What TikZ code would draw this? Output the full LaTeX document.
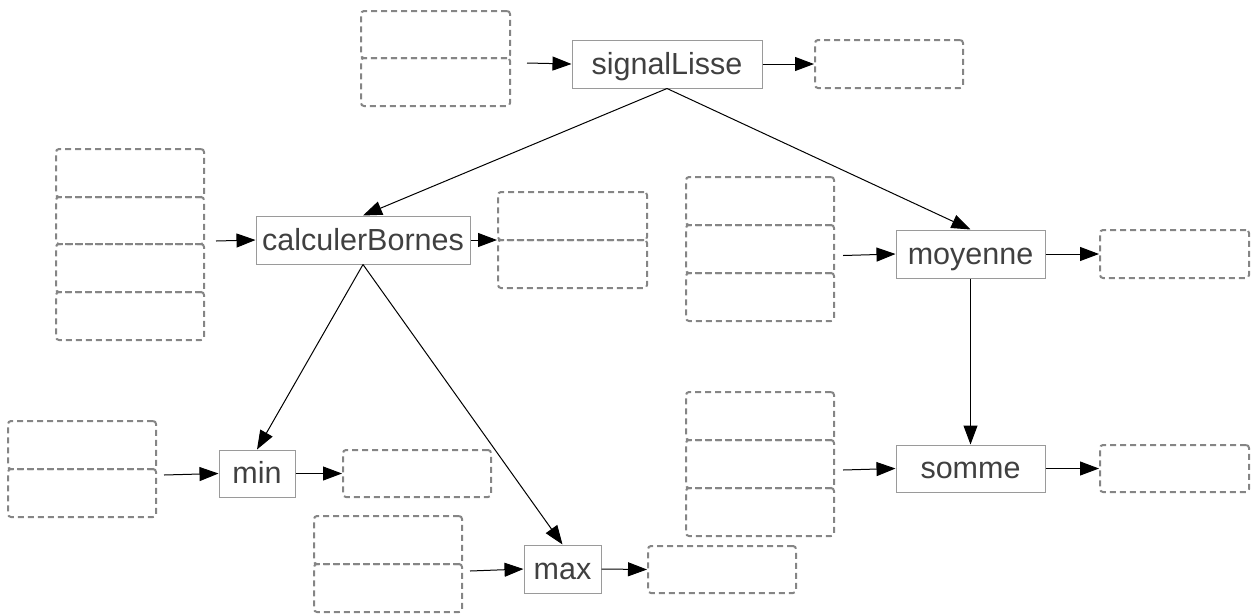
\documentclass[tikz,border=0pt]{standalone}
\usepackage{fontspec}
\setmainfont{Liberation Sans}
\usetikzlibrary{arrows.meta}
\definecolor{txtc}{HTML}{404040}
\definecolor{dashc}{HTML}{858585}
\definecolor{brdc}{HTML}{9A9A9A}
\tikzset{
  fn/.style={draw=brdc, line width=1pt, fill=white, text=txtc, inner sep=0pt,
    text height=20pt, text depth=0pt,
    font=\fontsize{30.5}{30.5}\selectfont},
  db/.style={draw=dashc, line width=2pt, dash pattern=on 6pt off 4pt, rounded corners=3pt, inner sep=0pt},
  arr/.style={draw=black, line width=1pt, -{Triangle[length=19pt,width=14pt]}},
}
\begin{document}
\begin{tikzpicture}[x=1pt,y=-1pt]
\useasboundingbox (0,0) rectangle (1252,614);
% signalLisse
\node[db, minimum width=149pt, minimum height=47pt] (sIn1) at (435.5,34.5) {};
\node[db, minimum width=149pt, minimum height=48pt] (sIn2) at (435.5,82) {};
\node[fn, minimum width=190pt, minimum height=48pt] (sl) at (667,64) {signalLisse};
\node[db, minimum width=148pt, minimum height=48pt] (sOut) at (889,64) {};
% calculerBornes
\node[db, minimum width=148pt, minimum height=48pt] (cbIn1) at (130,173) {};
\node[db, minimum width=148pt, minimum height=47pt] (cbIn2) at (130,220.5) {};
\node[db, minimum width=148pt, minimum height=48pt] (cbIn3) at (130,268) {};
\node[db, minimum width=148pt, minimum height=48pt] (cbIn4) at (130,316) {};
\node[fn, minimum width=214pt, minimum height=48pt] (cb) at (363,240) {calculerBornes};
\node[db, minimum width=149pt, minimum height=48pt] (cbOut1) at (572.5,216) {};
\node[db, minimum width=149pt, minimum height=48pt] (cbOut2) at (572.5,264) {};
% moyenne
\node[db, minimum width=148pt, minimum height=48pt] (moIn1) at (760,201) {};
\node[db, minimum width=148pt, minimum height=48pt] (moIn2) at (760,249) {};
\node[db, minimum width=148pt, minimum height=48pt] (moIn3) at (760,297) {};
\node[fn, minimum width=149pt, minimum height=48pt] (mo) at (970.5,254) {moyenne};
\node[db, minimum width=149pt, minimum height=48pt] (moOut) at (1174.5,254) {};
% somme
\node[db, minimum width=148pt, minimum height=48pt] (soIn1) at (760,416) {};
\node[db, minimum width=148pt, minimum height=48pt] (soIn2) at (760,464) {};
\node[db, minimum width=148pt, minimum height=48pt] (soIn3) at (760,512) {};
\node[fn, minimum width=149pt, minimum height=47pt] (so) at (970.5,468.5) {somme};
\node[db, minimum width=149pt, minimum height=47pt] (soOut) at (1174.5,468.5) {};
% min
\node[db, minimum width=148pt, minimum height=48pt] (miIn1) at (82,445) {};
\node[db, minimum width=148pt, minimum height=48pt] (miIn2) at (82,493) {};
\node[fn, minimum width=76pt, minimum height=47pt] (mi) at (257,473.5) {min};
\node[db, minimum width=148pt, minimum height=47pt] (miOut) at (417,473.5) {};
% max
\node[db, minimum width=148pt, minimum height=48pt] (maIn1) at (388,540) {};
\node[db, minimum width=148pt, minimum height=48pt] (maIn2) at (388,588) {};
\node[fn, minimum width=77pt, minimum height=48pt] (ma) at (562.5,569) {max};
\node[db, minimum width=148pt, minimum height=47pt] (maOut) at (722,569.5) {};
% free ends of input arrows
\coordinate (sA) at (527,63);
\coordinate (cbA) at (216,241);
\coordinate (moA) at (843,255.5);
\coordinate (soA) at (843,470);
\coordinate (miA) at (164,475);
\coordinate (maA) at (470,571);
% connectors
\draw[arr] (sA) -- (sl.west);
\draw[arr] (sl.east) -- (sOut.west);
\draw[arr] (cbA) -- (cb.west);
\draw[arr] (cb.east) -- (cb.east -| cbOut1.west);
\draw[arr] (moA) -- (mo.west);
\draw[arr] (mo.east) -- (moOut.west);
\draw[arr] (soA) -- (so.west);
\draw[arr] (so.east) -- (soOut.west);
\draw[arr] (miA) -- (mi.west);
\draw[arr] (mi.east) -- (miOut.west);
\draw[arr] (maA) -- (ma.west);
\draw[arr] (ma.east) -- (maOut.west);
\draw[arr] (sl.south) -- (cb.north);
\draw[arr] (sl.south) -- (mo.north);
\draw[arr] (cb.south) -- (mi.north);
\draw[arr] (cb.south) -- (ma.north);
\draw[arr] (mo.south) -- (so.north);
\end{tikzpicture}
\end{document}
